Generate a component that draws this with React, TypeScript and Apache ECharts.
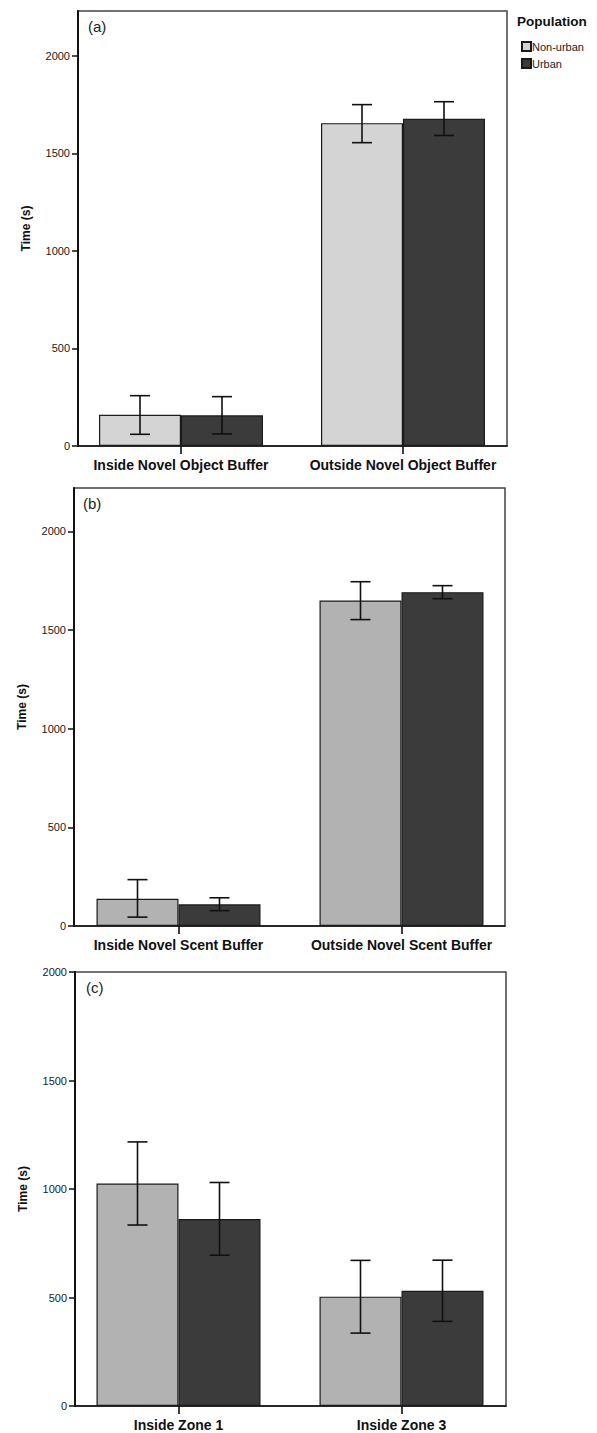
import React, { useEffect, useRef } from "react";
import * as echarts from "echarts";

const CATS_A = ["Inside Novel Object Buffer", "Outside Novel Object Buffer"];
const NONURBAN_A = [160, 1655];
const URBAN_A = [157, 1678];
const NONURBAN_A_CI_LOW = [60, 1555];
const NONURBAN_A_CI_HIGH = [258, 1750];
const URBAN_A_CI_LOW = [62, 1592];
const URBAN_A_CI_HIGH = [253, 1765];

const CATS_B = ["Inside Novel Scent Buffer", "Outside Novel Scent Buffer"];
const NONURBAN_B = [138, 1650];
const URBAN_B = [110, 1692];
const NONURBAN_B_CI_LOW = [45, 1553];
const NONURBAN_B_CI_HIGH = [235, 1745];
const URBAN_B_CI_LOW = [78, 1659];
const URBAN_B_CI_HIGH = [143, 1725];

const CATS_C = ["Inside Zone 1", "Inside Zone 3"];
const NONURBAN_C = [1025, 504];
const URBAN_C = [862, 531];
const NONURBAN_C_CI_LOW = [834, 336];
const NONURBAN_C_CI_HIGH = [1217, 671];
const URBAN_C_CI_LOW = [695, 390];
const URBAN_C_CI_HIGH = [1030, 672];

const Y_TICKS = [0, 500, 1000, 1500, 2000];
const PANEL_LABELS = ["(a)", "(b)", "(c)"];
const LEGEND_TITLE = "Population";
const SERIES_NAMES = ["Non-urban", "Urban"];

const BAR_W = 82;
const CAP_W = 20;

export default function App() {
  const ref = useRef<HTMLDivElement>(null);
  useEffect(() => {
    document.body.style.margin = "0";
    const chart = echarts.init(ref.current!, null, { renderer: "svg" });

    const panels = [
      {
        cats: CATS_A, nu: NONURBAN_A, ur: URBAN_A,
        nuLo: NONURBAN_A_CI_LOW, nuHi: NONURBAN_A_CI_HIGH, urLo: URBAN_A_CI_LOW, urHi: URBAN_A_CI_HIGH,
        max: 2230, frame: { left: 78, top: 11, width: 429, height: 435 },
        bars: { left: 70, top: 11, width: 444, height: 435 },
        nuColor: "#d4d4d4", urColor: "#3b3b3b", label: { x: 88, y: 19 },
      },
      {
        cats: CATS_B, nu: NONURBAN_B, ur: URBAN_B,
        nuLo: NONURBAN_B_CI_LOW, nuHi: NONURBAN_B_CI_HIGH, urLo: URBAN_B_CI_LOW, urHi: URBAN_B_CI_HIGH,
        max: 2220, frame: { left: 74, top: 488, width: 431, height: 438 },
        bars: { left: 67, top: 488, width: 446, height: 438 },
        nuColor: "#b2b2b2", urColor: "#3b3b3b", label: { x: 83, y: 496 },
      },
      {
        cats: CATS_C, nu: NONURBAN_C, ur: URBAN_C,
        nuLo: NONURBAN_C_CI_LOW, nuHi: NONURBAN_C_CI_HIGH, urLo: URBAN_C_CI_LOW, urHi: URBAN_C_CI_HIGH,
        max: 2000, frame: { left: 75, top: 972, width: 431, height: 434 },
        bars: { left: 67, top: 972, width: 446, height: 434 },
        nuColor: "#b2b2b2", urColor: "#3b3b3b", label: { x: 86, y: 980 },
      },
    ];

    const grid: any[] = [];
    const xAxis: any[] = [];
    const yAxis: any[] = [];
    const series: any[] = [];
    const graphic: any[] = [];

    const errRender = (offset: number) => (params: any, api: any) => {
      const cat = api.value(0);
      const lo = api.coord([cat, api.value(1)]);
      const hi = api.coord([cat, api.value(2)]);
      const x = lo[0] + offset;
      const style = { stroke: "#111", lineWidth: 1.6 };
      return {
        type: "group",
        children: [
          { type: "line", shape: { x1: x, y1: lo[1], x2: x, y2: hi[1] }, style },
          { type: "line", shape: { x1: x - CAP_W / 2, y1: lo[1], x2: x + CAP_W / 2, y2: lo[1] }, style },
          { type: "line", shape: { x1: x - CAP_W / 2, y1: hi[1], x2: x + CAP_W / 2, y2: hi[1] }, style },
        ],
      };
    };

    panels.forEach((p, i) => {
      const gF = i * 2;
      const gB = i * 2 + 1;
      grid.push({ ...p.frame, show: true, borderColor: "#444", borderWidth: 1.5, backgroundColor: "transparent" });
      grid.push({ ...p.bars, show: false });

      xAxis.push({
        gridIndex: gF, type: "category", data: p.cats,
        axisLine: { show: true, lineStyle: { color: "#111", width: 1.6 } },
        axisTick: { show: false }, axisLabel: { show: false }, splitLine: { show: false },
      });
      xAxis.push({
        gridIndex: gB, type: "category", data: p.cats,
        axisLine: { show: false },
        axisTick: { show: true, alignWithLabel: true, length: 8, lineStyle: { color: "#111", width: 1.6 } },
        axisLabel: {
          show: true, interval: 0, margin: 12,
          fontFamily: "'Liberation Sans Narrow', 'Arial Narrow', 'Liberation Sans', sans-serif",
          fontWeight: "bold", fontSize: 14, color: "#111",
        },
      });
      yAxis.push({
        gridIndex: gF, type: "value", min: 0, max: p.max,
        name: "Time (s)", nameLocation: "middle", nameGap: 46,
        nameTextStyle: { fontFamily: "Liberation Sans", fontWeight: "bold", fontSize: 12, color: "#111" },
        axisLine: { show: true, lineStyle: { color: "#111", width: 2 } },
        axisTick: { show: true, length: 6, customValues: Y_TICKS, lineStyle: { color: "#111", width: 1.5 } },
        axisLabel: {
          show: true, margin: 8, customValues: Y_TICKS, formatter: (v: number) => String(v),
          fontFamily: "Liberation Sans", fontSize: 11, color: "#1a1a1a",
        },
        splitLine: { show: false },
      });
      yAxis.push({ gridIndex: gB, type: "value", min: 0, max: p.max, show: false, splitLine: { show: false } });

      const barStyle = (c: string) => ({ color: c, borderColor: "#1a1a1a", borderWidth: 1.2 });
      series.push({
        name: SERIES_NAMES[0], type: "bar", xAxisIndex: gB, yAxisIndex: gB, data: p.nu,
        barWidth: BAR_W, barGap: "0%", itemStyle: barStyle(p.nuColor),
      });
      series.push({
        name: SERIES_NAMES[1], type: "bar", xAxisIndex: gB, yAxisIndex: gB, data: p.ur,
        barWidth: BAR_W, barGap: "0%", itemStyle: barStyle(p.urColor),
      });
      series.push({
        type: "custom", xAxisIndex: gB, yAxisIndex: gB, z: 5,
        data: p.nu.map((_, k) => [k, p.nuLo[k], p.nuHi[k]]),
        renderItem: errRender(-BAR_W / 2),
      });
      series.push({
        type: "custom", xAxisIndex: gB, yAxisIndex: gB, z: 5,
        data: p.ur.map((_, k) => [k, p.urLo[k], p.urHi[k]]),
        renderItem: errRender(BAR_W / 2),
      });

      graphic.push({
        type: "text", left: p.label.x, top: p.label.y,
        style: { text: PANEL_LABELS[i], fontFamily: "Liberation Sans", fontSize: 15, fill: "#222" },
      });
    });

    graphic.push({
      type: "text", left: 517, top: 14,
      style: { text: LEGEND_TITLE, fontFamily: "Liberation Sans", fontWeight: "bold", fontSize: 13.5, fill: "#111" },
    });

    chart.setOption({
      animation: false,
      grid, xAxis, yAxis, series, graphic,
      legend: {
        data: SERIES_NAMES, orient: "vertical", left: 516, top: 36,
        icon: "rect", itemWidth: 9, itemHeight: 9, itemGap: 6,
        textStyle: { fontFamily: "Liberation Sans", fontSize: 11, color: "#222", padding: [0, 0, 0, -4] },
        selectedMode: false,
      },
    });
    return () => chart.dispose();
  }, []);
  return <div ref={ref} style={{ width: 597, height: 1433 }} />;
}
